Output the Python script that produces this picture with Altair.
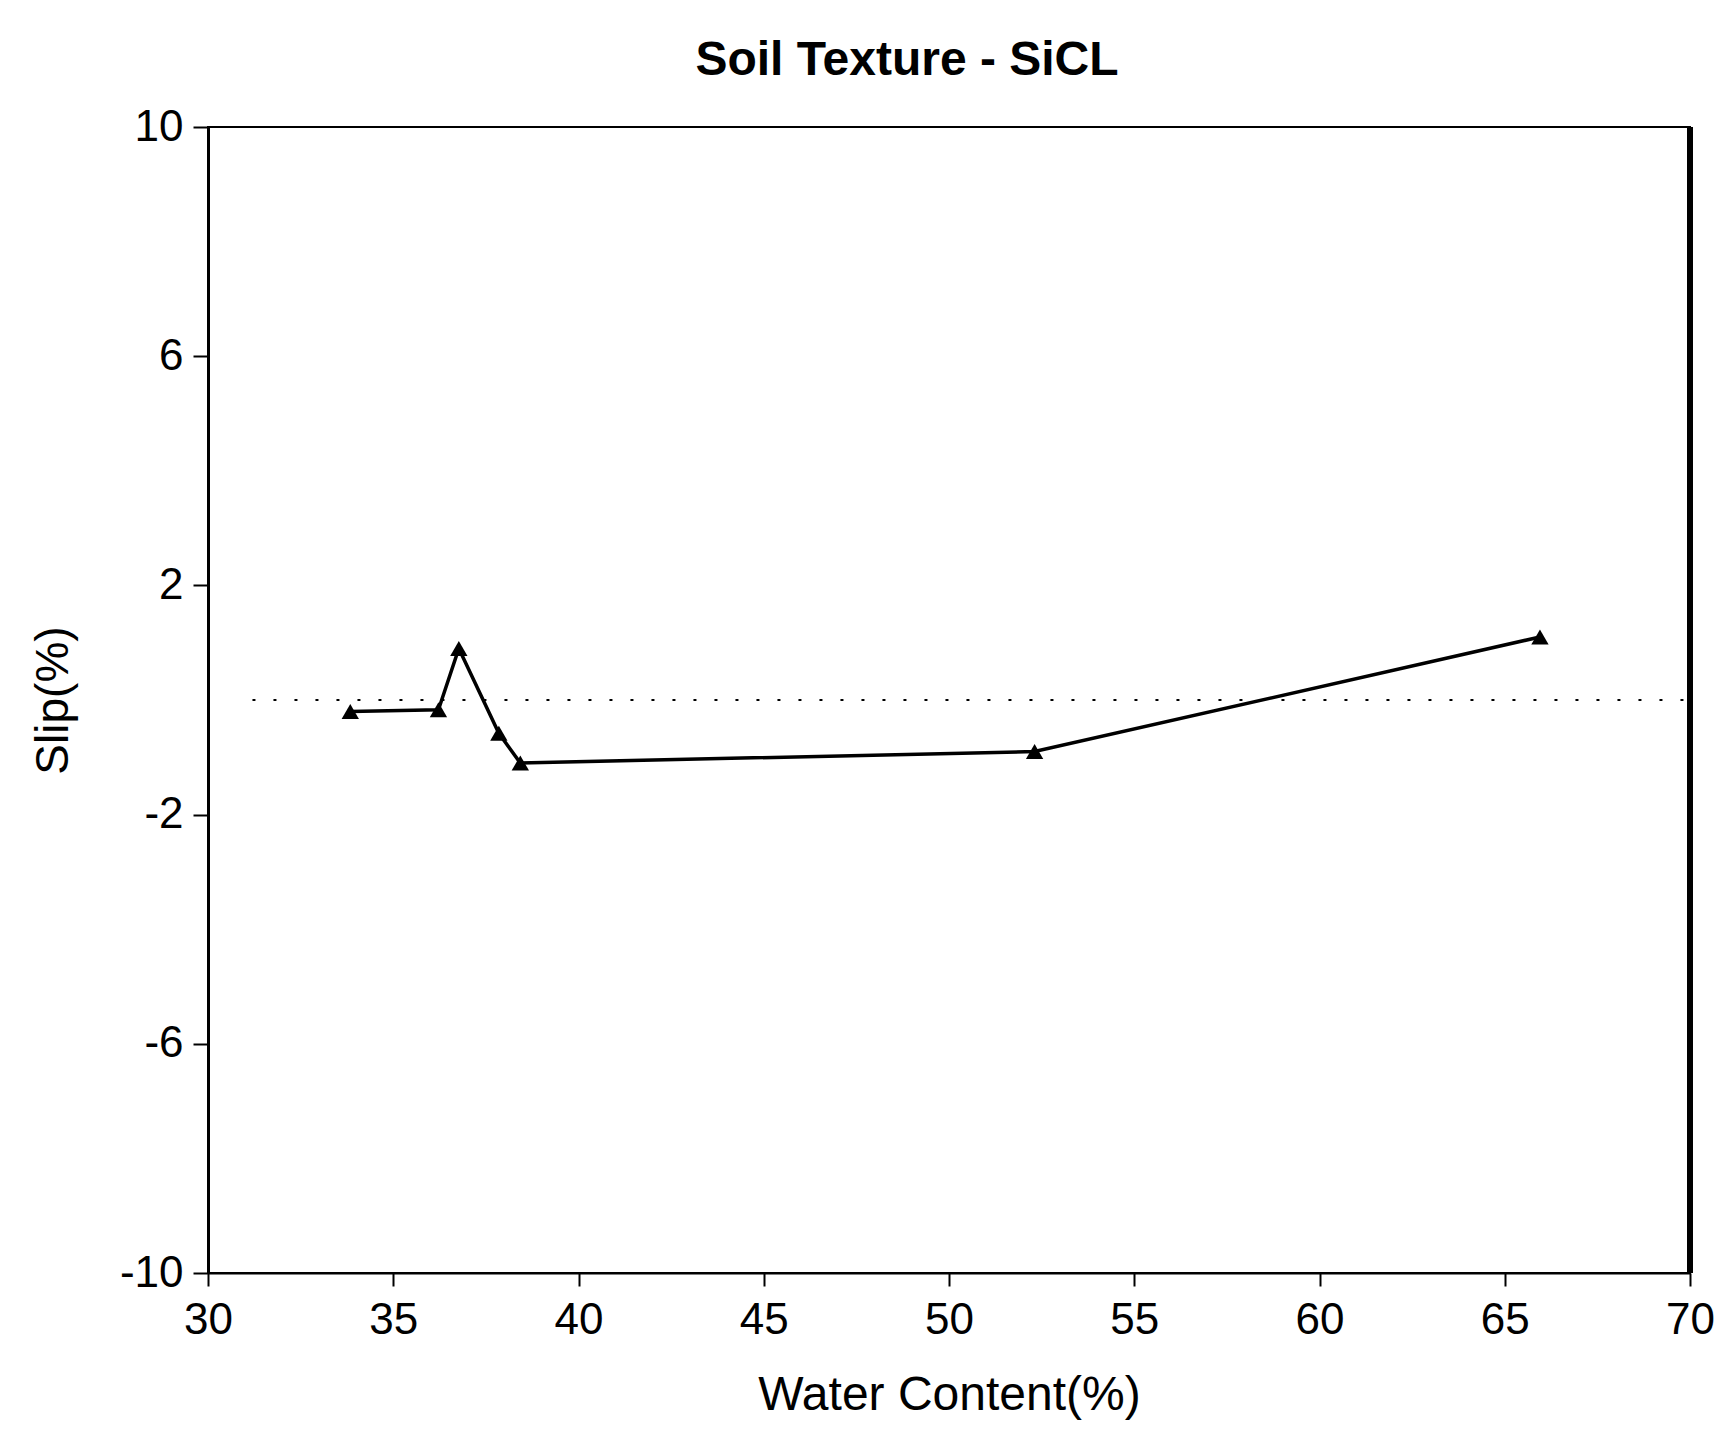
import altair as alt
import pandas as pd

# Measured slip against water content for the SiCL soil
water_content = [33.84, 36.22, 36.77, 37.85, 38.43, 52.31, 65.95]
slip = [-0.20, -0.17, 0.90, -0.58, -1.10, -0.90, 1.10]

x_ticks = [30, 35, 40, 45, 50, 55, 60, 65, 70]
y_ticks = [10, 6, 2, -2, -6, -10]
x_range = [30, 70]
y_range = [-10, 10]

# dotted zero-slip reference line: start, end and level
zero_start = [31.2]
zero_end = [70]
zero_level = [0]

FONT = "Liberation Sans"

data = pd.DataFrame({"wc": water_content, "slip": slip})

x_axis = alt.Axis(
    values=x_ticks,
    title="Water Content(%)",
    labelExpr="'' + datum.value",
    labelFont=FONT,
    labelFontSize=44,
    labelColor="black",
    labelPadding=12,
    labelFlush=False,
    tickSize=13,
    tickWidth=2,
    tickColor="black",
    domainColor="black",
    domainWidth=2,
    grid=False,
    titleFont=FONT,
    titleFontSize=48,
    titleFontWeight="normal",
    titleColor="black",
    titleY=122,
    titleBaseline="middle",
)

y_axis = alt.Axis(
    values=y_ticks,
    title="Slip(%)",
    labelExpr="'' + datum.value",
    labelFont=FONT,
    labelFontSize=44,
    labelColor="black",
    labelPadding=10,
    labelFlush=False,
    tickSize=15,
    tickWidth=2,
    tickColor="black",
    domainColor="black",
    domainWidth=3,
    grid=False,
    titleFont=FONT,
    titleFontSize=46,
    titleFontWeight="normal",
    titleColor="black",
    titleX=-155,
    titleBaseline="middle",
    titleAlign="center",
)

x_scale = alt.Scale(domain=x_range, nice=False, zero=False)
y_scale = alt.Scale(domain=y_range, nice=False, zero=False)

base = alt.Chart(data)

line = base.mark_line(color="black", strokeWidth=3.5).encode(
    x=alt.X("wc:Q", scale=x_scale, axis=x_axis),
    y=alt.Y("slip:Q", scale=y_scale, axis=y_axis),
)

points = base.mark_point(
    shape="triangle-up", filled=True, color="black", size=300, opacity=1
).encode(
    x=alt.X("wc:Q", scale=x_scale, axis=x_axis),
    y=alt.Y("slip:Q", scale=y_scale, axis=y_axis),
)

zero_df = pd.DataFrame({"wc": zero_start, "wc_end": zero_end, "slip": zero_level})
zero_line = alt.Chart(zero_df).mark_rule(
    color="black", strokeWidth=2, strokeDash=[3, 18]
).encode(
    x=alt.X("wc:Q", scale=x_scale, axis=x_axis),
    x2="wc_end:Q",
    y=alt.Y("slip:Q", scale=y_scale, axis=y_axis),
)

# heavy right-hand frame edge
right_edge = alt.Chart(pd.DataFrame({"wc": [x_range[1]]})).mark_rule(
    color="black", strokeWidth=6
).encode(x=alt.X("wc:Q", scale=x_scale, axis=x_axis))

chart = (
    alt.layer(zero_line, line, points, right_edge)
    .properties(
        width=1482,
        height=1146,
        autosize=alt.AutoSizeParams(type="none"),
        padding={"left": 208, "top": 127, "right": 33, "bottom": 166},
        title=alt.TitleParams(
            "Soil Texture - SiCL",
            font=FONT,
            fontSize=48,
            fontWeight="bold",
            color="black",
            anchor="middle",
            baseline="bottom",
            offset=40,
            dx=-42,
            dy=68,
        ),
        background="white",
    )
    .configure_view(stroke="black", strokeWidth=2)
)

chart.save("out.html", embed_options={"renderer": "svg", "actions": False})
